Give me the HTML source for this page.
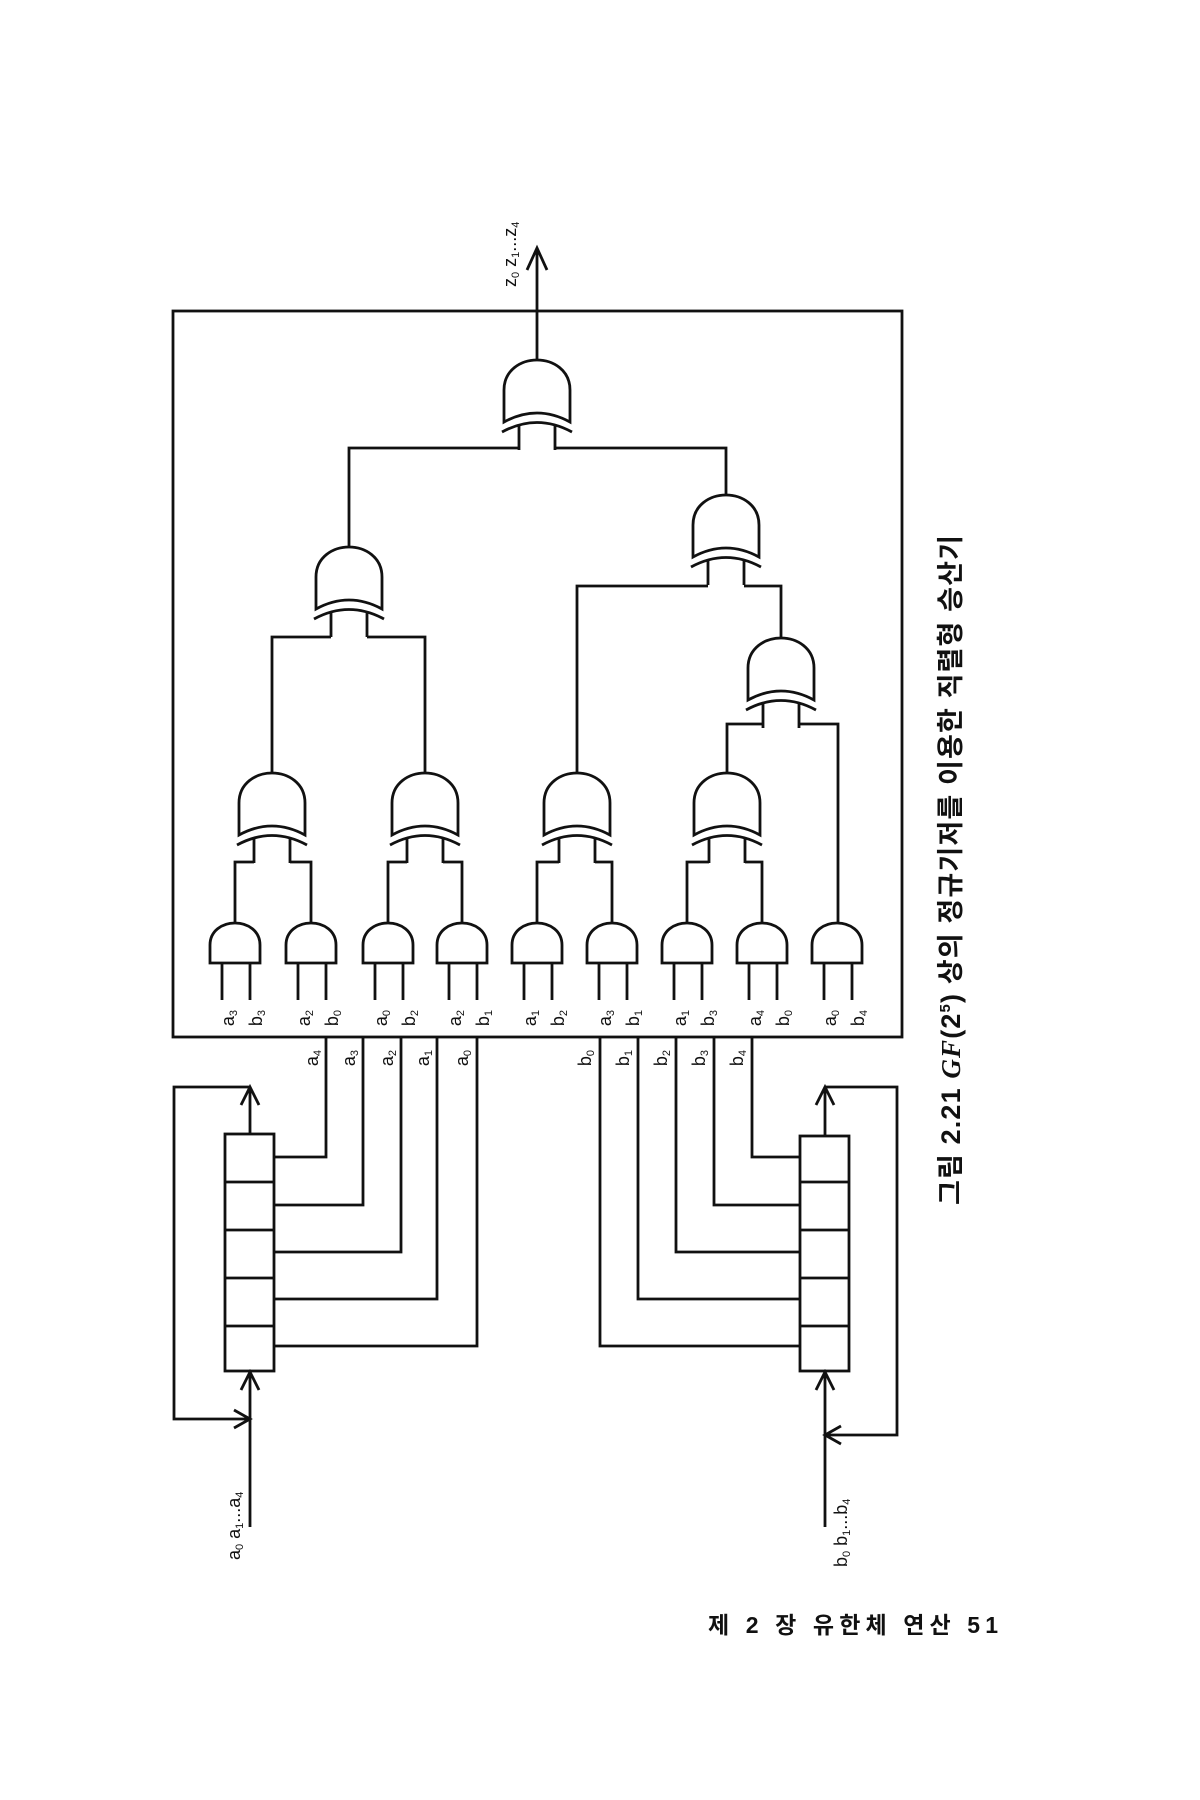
<!DOCTYPE html>
<html><head><meta charset="utf-8"><style>
html,body{margin:0;padding:0;background:#fff;}
svg{display:block;}
text{font-family:"Liberation Sans","Noto Sans CJK KR",sans-serif;fill:#111;}
</style></head><body>
<svg width="1200" height="1800" viewBox="0 0 1200 1800" xmlns="http://www.w3.org/2000/svg">
<defs>
<g id="xor">
<path d="M-33,62 V30 C-33,10 -16,0 0,0 C16,0 33,10 33,30 V62 Q0,44 -33,62 Z" fill="#fff" stroke="#111" stroke-width="2.8"/>
<path d="M-35,72 Q0,53 35,72" fill="none" stroke="#111" stroke-width="2.8"/>
<path d="M-18,64 V90 M18,64 V90" fill="none" stroke="#111" stroke-width="2.8"/>
</g>
<g id="and">
<path d="M-25,40 V22 C-25,8 -13,0 0,0 C13,0 25,8 25,22 V40 Z" fill="#fff" stroke="#111" stroke-width="2.8"/>
<path d="M-13,40 V77 M15,40 V77" fill="none" stroke="#111" stroke-width="2.8"/>
</g>
</defs>
<g fill="none" stroke="#111" stroke-width="2.8">
<rect x="173" y="311" width="729" height="726"/>
<path d="M537,360 V250 M527,270 L537,248 L547,270"/>
<path d="M519,448 H349 V547 M555,448 H726 V495"/>
<path d="M331,637 H272 V773 M367,637 H425 V773"/>
<path d="M708,586 H577 V773 M744,586 H781 V638"/>
<path d="M763,724 H727 V773 M799,724 H838 V923"/>
<path d="M254,862 H235 V923 M290,862 H311 V923"/>
<path d="M407,862 H388 V923 M443,862 H462 V923"/>
<path d="M559,862 H537 V923 M595,862 H612 V923"/>
<path d="M709,862 H687 V923 M745,862 H762 V923"/>
<path d="M326,1037 V1157 H274 M363,1037 V1205 H274 M401,1037 V1252 H274 M437,1037 V1299 H274 M477,1037 V1346 H274"/>
<path d="M752,1037 V1157 H800 M714,1037 V1205 H800 M676,1037 V1252 H800 M638,1037 V1299 H800 M600,1037 V1346 H800"/>
<rect x="225" y="1134" width="49" height="237"/>
<path d="M225,1182 H274 M225,1230 H274 M225,1278 H274 M225,1326 H274"/>
<path d="M250,1134 V1089 M241,1105 L250,1087 L259,1105 M250,1087 H174 V1419 H250 M234,1410 L250,1419 L234,1428"/>
<path d="M250,1527 V1373 M241,1390 L250,1372 L259,1390"/>
<rect x="800" y="1136" width="49" height="235"/>
<path d="M800,1182 H849 M800,1230 H849 M800,1278 H849 M800,1326 H849"/>
<path d="M825,1136 V1089 M816,1105 L825,1087 L834,1105 M825,1087 H897 V1435 H825 M841,1426 L825,1435 L841,1444"/>
<path d="M825,1527 V1373 M816,1390 L825,1372 L834,1390"/>
</g>
<use href="#xor" x="537" y="360"/>
<use href="#xor" x="349" y="547"/>
<use href="#xor" x="726" y="495"/>
<use href="#xor" x="781" y="638"/>
<use href="#xor" x="272" y="773"/>
<use href="#xor" x="425" y="773"/>
<use href="#xor" x="577" y="773"/>
<use href="#xor" x="727" y="773"/>
<use href="#and" x="235" y="923"/>
<use href="#and" x="311" y="923"/>
<use href="#and" x="388" y="923"/>
<use href="#and" x="462" y="923"/>
<use href="#and" x="537" y="923"/>
<use href="#and" x="612" y="923"/>
<use href="#and" x="687" y="923"/>
<use href="#and" x="762" y="923"/>
<use href="#and" x="837" y="923"/>
<g font-size="18" text-anchor="middle">
<text transform="translate(228,1018) rotate(-90)" dy="6">a<tspan font-size="11" dy="3">3</tspan></text>
<text transform="translate(256,1018) rotate(-90)" dy="6">b<tspan font-size="11" dy="3">3</tspan></text>
<text transform="translate(304,1018) rotate(-90)" dy="6">a<tspan font-size="11" dy="3">2</tspan></text>
<text transform="translate(332,1018) rotate(-90)" dy="6">b<tspan font-size="11" dy="3">0</tspan></text>
<text transform="translate(381,1018) rotate(-90)" dy="6">a<tspan font-size="11" dy="3">0</tspan></text>
<text transform="translate(409,1018) rotate(-90)" dy="6">b<tspan font-size="11" dy="3">2</tspan></text>
<text transform="translate(455,1018) rotate(-90)" dy="6">a<tspan font-size="11" dy="3">2</tspan></text>
<text transform="translate(483,1018) rotate(-90)" dy="6">b<tspan font-size="11" dy="3">1</tspan></text>
<text transform="translate(530,1018) rotate(-90)" dy="6">a<tspan font-size="11" dy="3">1</tspan></text>
<text transform="translate(558,1018) rotate(-90)" dy="6">b<tspan font-size="11" dy="3">2</tspan></text>
<text transform="translate(605,1018) rotate(-90)" dy="6">a<tspan font-size="11" dy="3">3</tspan></text>
<text transform="translate(633,1018) rotate(-90)" dy="6">b<tspan font-size="11" dy="3">1</tspan></text>
<text transform="translate(680,1018) rotate(-90)" dy="6">a<tspan font-size="11" dy="3">1</tspan></text>
<text transform="translate(708,1018) rotate(-90)" dy="6">b<tspan font-size="11" dy="3">3</tspan></text>
<text transform="translate(755,1018) rotate(-90)" dy="6">a<tspan font-size="11" dy="3">4</tspan></text>
<text transform="translate(783,1018) rotate(-90)" dy="6">b<tspan font-size="11" dy="3">0</tspan></text>
<text transform="translate(830,1018) rotate(-90)" dy="6">a<tspan font-size="11" dy="3">0</tspan></text>
<text transform="translate(858,1018) rotate(-90)" dy="6">b<tspan font-size="11" dy="3">4</tspan></text>
<text transform="translate(312,1058) rotate(-90)" dy="6">a<tspan font-size="11" dy="3">4</tspan></text>
<text transform="translate(349,1058) rotate(-90)" dy="6">a<tspan font-size="11" dy="3">3</tspan></text>
<text transform="translate(387,1058) rotate(-90)" dy="6">a<tspan font-size="11" dy="3">2</tspan></text>
<text transform="translate(423,1058) rotate(-90)" dy="6">a<tspan font-size="11" dy="3">1</tspan></text>
<text transform="translate(462,1058) rotate(-90)" dy="6">a<tspan font-size="11" dy="3">0</tspan></text>
<text transform="translate(585,1058) rotate(-90)" dy="6">b<tspan font-size="11" dy="3">0</tspan></text>
<text transform="translate(623,1058) rotate(-90)" dy="6">b<tspan font-size="11" dy="3">1</tspan></text>
<text transform="translate(661,1058) rotate(-90)" dy="6">b<tspan font-size="11" dy="3">2</tspan></text>
<text transform="translate(699,1058) rotate(-90)" dy="6">b<tspan font-size="11" dy="3">3</tspan></text>
<text transform="translate(737,1058) rotate(-90)" dy="6">b<tspan font-size="11" dy="3">4</tspan></text>
</g>
<g font-size="18">
<text transform="translate(510,287) rotate(-90)" dy="6">z<tspan font-size="11" dy="3">0</tspan><tspan dy="-3"> z</tspan><tspan font-size="11" dy="3">1</tspan><tspan dy="-3">...z</tspan><tspan font-size="11" dy="3">4</tspan></text>
<text transform="translate(234,1560) rotate(-90)" dy="6">a<tspan font-size="11" dy="3">0</tspan><tspan dy="-3"> a</tspan><tspan font-size="11" dy="3">1</tspan><tspan dy="-3">...a</tspan><tspan font-size="11" dy="3">4</tspan></text>
<text transform="translate(841,1567) rotate(-90)" dy="6">b<tspan font-size="11" dy="3">0</tspan><tspan dy="-3"> b</tspan><tspan font-size="11" dy="3">1</tspan><tspan dy="-3">...b</tspan><tspan font-size="11" dy="3">4</tspan></text>
</g>
<text transform="translate(950,1205) rotate(-90)" dy="10" font-size="27" font-weight="bold" textLength="670" lengthAdjust="spacing">그림 2.21  <tspan font-family="Liberation Serif, serif" font-style="italic">GF</tspan>(2<tspan font-size="15" dy="-10">5</tspan><tspan dy="10">) 상의 정규기저를 이용한 직렬형 승산기</tspan></text>
<text x="708" y="1633" font-size="23" font-weight="600" textLength="290" lengthAdjust="spacing">제 2 장   유한체 연산   51</text>
</svg>
</body></html>
